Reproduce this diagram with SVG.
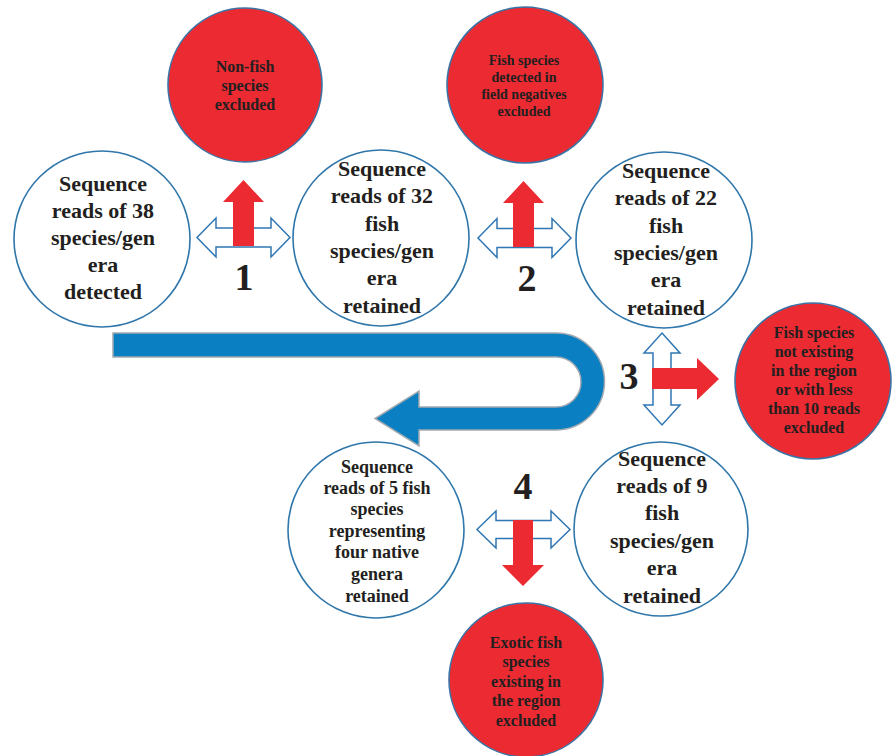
<svg xmlns="http://www.w3.org/2000/svg" width="895" height="756" viewBox="0 0 895 756">
<style>
.wc{fill:#fff;stroke:#2f76aa;stroke-width:1.6}
.rc{fill:#ec2a31;stroke:#3a74a6;stroke-width:1.6}
.da{fill:#fff;stroke:#2f76b4;stroke-width:1.5}
.ra{fill:#ec2a31}
text{font-family:"Liberation Serif","Times New Roman",serif;font-weight:bold;fill:#231f20;text-anchor:middle}
.t22{font-size:22px}
.t18{font-size:18px}
.t16{font-size:16px}
.t14{font-size:14px}
.num{font-size:38px}
</style>
<g id="connectors">
<path id="uturn" d="M113,333 H556 A48.5,48.5 0 0 1 556,430 H419 V446 L375,418.5 L419,391 V407 H556 A25,25 0 0 0 556,357 H113 Z" fill="#0a7fc2" stroke="#a3a9b0" stroke-width="1.5"/>
<path class="da" d="M197,237.5 L216,218 V228 H271 V218 L290,237.5 L271,257 V247 H216 V257 Z"/>
<path class="ra" d="M233,246 V202 H223 L243.5,180 L264,202 H254 V246 Z"/>
<path class="da" d="M478,238 L497,218.5 V228.5 H552 V218.5 L571,238 L552,257.5 V247.5 H497 V257.5 Z"/>
<path class="ra" d="M513,247 V203 H503 L523.5,181 L544,203 H534 V247 Z"/>
<path class="da" d="M662,333 L680,353 H671 V405 H680 L662,425 L644,405 H653 V353 H644 Z"/>
<path class="ra" d="M652,368 H697 V358 L719,379 L697,400 V389 H652 Z"/>
<path class="da" d="M477,529.5 L496,511 V520.5 H551 V511 L570,529.5 L551,548 V538.5 H496 V548 Z"/>
<path class="ra" d="M513,520 V565 H502 L523,586 L544,565 H533 V520 Z"/>
</g>
<g id="labels">
<text class="num" x="244" y="290">1</text>
<text class="num" x="527" y="291">2</text>
<text class="num" x="629" y="389">3</text>
<text class="num" x="523" y="499">4</text>
</g>
<g id="n-nonfish">
<circle class="rc" cx="245" cy="85" r="77"/>
<text class="t16" x="245" y="72">Non-fish</text>
<text class="t16" x="245" y="91">species</text>
<text class="t16" x="245" y="110">excluded</text>
</g>
<g id="n-fieldneg">
<circle class="rc" cx="525" cy="85" r="78"/>
<text class="t14" x="524" y="65">Fish species</text>
<text class="t14" x="524" y="82">detected in</text>
<text class="t14" x="524" y="99">field negatives</text>
<text class="t14" x="524" y="116">excluded</text>
</g>
<g id="n-region">
<circle class="rc" cx="813" cy="381" r="78"/>
<text class="t16" x="814" y="338">Fish species</text>
<text class="t16" x="814" y="357">not existing</text>
<text class="t16" x="814" y="376">in the region</text>
<text class="t16" x="814" y="395">or with less</text>
<text class="t16" x="814" y="414">than 10 reads</text>
<text class="t16" x="814" y="433">excluded</text>
</g>
<g id="n-exotic">
<circle class="rc" cx="526" cy="680" r="77"/>
<text class="t16" x="526" y="648">Exotic fish</text>
<text class="t16" x="526" y="667">species</text>
<text class="t16" x="526" y="687">existing in</text>
<text class="t16" x="526" y="706">the region</text>
<text class="t16" x="526" y="726">excluded</text>
</g>
<g id="n-38">
<circle class="wc" cx="102" cy="239" r="88"/>
<text class="t22" x="103" y="191">Sequence</text>
<text class="t22" x="103" y="218">reads of 38</text>
<text class="t22" x="103" y="245">species/gen</text>
<text class="t22" x="103" y="272">era</text>
<text class="t22" x="103" y="299">detected</text>
</g>
<g id="n-32">
<circle class="wc" cx="381" cy="238" r="88"/>
<text class="t22" x="382" y="176">Sequence</text>
<text class="t22" x="382" y="203">reads of 32</text>
<text class="t22" x="382" y="231">fish</text>
<text class="t22" x="382" y="258">species/gen</text>
<text class="t22" x="382" y="285">era</text>
<text class="t22" x="382" y="313">retained</text>
</g>
<g id="n-22">
<circle class="wc" cx="664" cy="240" r="88"/>
<text class="t22" x="666" y="178">Sequence</text>
<text class="t22" x="666" y="205">reads of 22</text>
<text class="t22" x="666" y="233">fish</text>
<text class="t22" x="666" y="260">species/gen</text>
<text class="t22" x="666" y="287">era</text>
<text class="t22" x="666" y="315">retained</text>
</g>
<g id="n-9">
<circle class="wc" cx="661" cy="529" r="87"/>
<text class="t22" x="662" y="466">Sequence</text>
<text class="t22" x="662" y="493">reads of 9</text>
<text class="t22" x="662" y="520">fish</text>
<text class="t22" x="662" y="548">species/gen</text>
<text class="t22" x="662" y="575">era</text>
<text class="t22" x="662" y="603">retained</text>
</g>
<g id="n-5">
<circle class="wc" cx="376" cy="530" r="88"/>
<text class="t18" x="377" y="473">Sequence</text>
<text class="t18" x="377" y="494">reads of 5 fish</text>
<text class="t18" x="377" y="515">species</text>
<text class="t18" x="377" y="537">representing</text>
<text class="t18" x="377" y="558">four native</text>
<text class="t18" x="377" y="580">genera</text>
<text class="t18" x="377" y="602">retained</text>
</g>
</svg>
